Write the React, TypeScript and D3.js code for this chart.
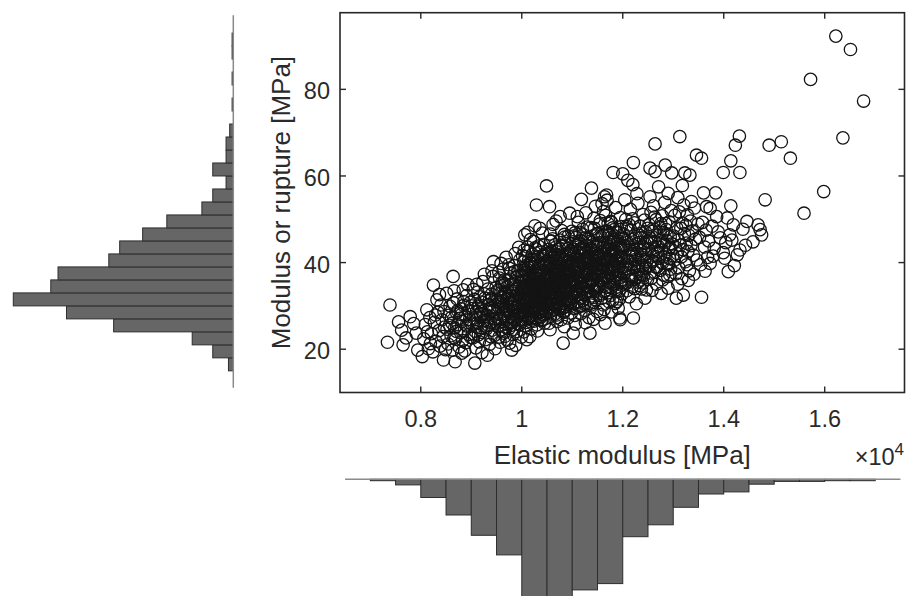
import React from "react";
import * as d3 from "d3";

const W = 906;
const H = 596;

const xTicks = [0.8, 1, 1.2, 1.4, 1.6];
const yTicks = [20, 40, 60, 80];
const xLabel = "Elastic modulus [MPa]";
const yLabel = "Modulus or rupture [MPa]";

// Histogram of elastic modulus (x10^4 MPa), bin lower edges and counts
const elasticBinEdges = [0.65, 0.7, 0.75, 0.8, 0.85, 0.9, 0.95, 1.0, 1.05, 1.1, 1.15, 1.2, 1.25, 1.3, 1.35, 1.4, 1.45, 1.5, 1.55, 1.6, 1.65];
const elasticBinWidth = 0.05;
const elasticCounts = [0, 2, 8, 26, 51, 80, 108, 183, 180, 158, 149, 82, 65, 40, 21, 18, 7, 3, 3, 2, 2];

// Histogram of modulus of rupture (MPa)
const ruptureBinEdges = [15, 18, 21, 24, 27, 30, 33, 36, 39, 42, 45, 48, 51, 54, 57, 60, 63, 66, 69, 72, 75, 78, 81, 84, 87, 90];
const ruptureBinWidth = 3;
const ruptureCounts = [4, 17, 34, 99, 138, 182, 151, 145, 103, 94, 75, 55, 26, 17, 6, 17, 6, 6, 3, 0, 1, 0, 1, 0, 1, 1];

// Scatter: [elastic modulus (x10^4 MPa), modulus of rupture (MPa)]
const points: [number, number][] = [
  [0.734,21.6],[0.739,30.2],
  [0.762,24.4],[0.765,21.0],[0.779,27.5],[0.791,23.7],[0.794,19.8],[0.771,22.6],[0.786,25.9],[0.756,26.3],
  [0.803,18.3],[0.812,29.1],[0.825,34.8],[0.832,31.4],[0.845,17.5],[0.806,22.4],[0.809,25.7],[0.815,20.1],[0.818,27.3],[0.821,23.6],[0.824,19.4],[0.827,26.2],[0.830,21.8],[0.834,28.5],[0.836,24.3],[0.838,20.7],[0.840,30.2],[0.842,26.8],[0.844,22.9],[0.847,25.1],[0.849,19.9],[0.813,24.0],[0.829,27.9],[0.837,32.6],[0.846,28.7],[0.819,21.3],
  [0.851,32.9],[0.864,36.8],[0.868,17.1],[0.881,19.1],[0.884,33.7],[0.852,24.6],[0.854,21.2],[0.856,27.8],[0.858,29.9],[0.860,23.1],[0.862,26.0],[0.863,19.8],[0.865,30.7],[0.867,24.9],[0.869,22.3],[0.871,28.4],[0.872,31.6],[0.874,25.7],[0.876,20.5],[0.877,27.1],[0.879,23.8],[0.880,29.3],[0.882,26.4],[0.883,22.0],[0.885,30.1],[0.886,24.2],[0.888,27.6],[0.889,21.5],[0.891,32.4],[0.892,25.3],[0.894,28.8],[0.895,23.4],[0.897,26.9],[0.898,30.8],[0.899,22.7],[0.857,25.5],[0.873,28.9],[0.887,19.6],[0.866,33.5],[0.893,34.9],
  [0.8605,27.3],[0.8705,24.1],[0.8805,28.0],[0.8905,25.6],[0.9005,30.0],[0.9105,25.3],[0.9205,28.8],[0.9305,26.5],[0.9405,31.8],[0.8655,22.6],[0.8855,31.0],[0.9055,23.5],[0.9255,32.8],[0.9455,25.9],[0.9355,29.4],
  [0.907,16.8],[0.917,32.1],[0.944,40.2],[0.901,25.8],[0.902,29.4],[0.903,22.6],[0.905,27.2],[0.906,31.5],[0.908,24.1],[0.909,20.3],[0.910,28.6],[0.912,26.0],[0.913,33.2],[0.914,23.3],[0.915,29.8],[0.916,21.7],[0.918,27.4],[0.919,25.0],[0.920,30.9],[0.922,23.9],[0.923,35.6],[0.924,28.1],[0.925,26.6],[0.927,31.8],[0.928,22.2],[0.929,29.2],[0.930,24.7],[0.931,27.9],[0.933,33.9],[0.934,25.5],[0.935,30.3],[0.936,21.1],[0.937,28.8],[0.938,26.2],[0.940,32.7],[0.941,24.4],[0.942,29.6],[0.943,36.8],[0.945,27.0],[0.946,23.2],[0.947,31.1],[0.948,26.3],[0.949,34.2],[0.911,35.0],[0.921,19.2],[0.926,37.3],[0.932,18.6],[0.939,22.9],[0.904,33.8],[0.914,30.0],[0.944,29.0],[0.947,20.1],[0.927,25.4],[0.936,31.3],[0.918,28.2],[0.941,38.1],[0.909,27.9],[0.933,27.5],
  [0.980,19.8],[0.951,28.3],[0.952,33.6],[0.953,25.2],[0.954,30.8],[0.955,22.8],[0.956,36.4],[0.957,27.1],[0.958,31.9],[0.959,24.5],[0.960,29.6],[0.961,34.7],[0.962,26.4],[0.963,38.5],[0.964,23.7],[0.965,30.2],[0.966,27.8],[0.967,33.1],[0.968,25.9],[0.969,41.2],[0.970,29.0],[0.971,22.1],[0.972,31.7],[0.973,35.8],[0.974,27.4],[0.975,24.8],[0.976,32.5],[0.977,28.6],[0.978,37.6],[0.979,26.1],[0.981,30.4],[0.982,34.1],[0.983,23.4],[0.984,28.9],[0.985,39.3],[0.986,31.2],[0.987,26.7],[0.988,33.8],[0.989,29.5],[0.990,24.1],[0.991,36.9],[0.992,27.6],[0.993,31.4],[0.994,43.5],[0.995,25.6],[0.996,30.1],[0.997,35.2],[0.998,28.3],[0.999,32.8],[0.953,29.9],[0.957,21.6],[0.961,31.1],[0.966,36.0],[0.969,25.0],[0.973,29.3],[0.976,21.4],[0.979,34.9],[0.983,27.0],[0.986,37.9],[0.989,32.2],[0.993,25.9],[0.996,40.6],[0.999,22.8],[0.955,33.5],[0.963,28.2],[0.971,34.4],[0.977,30.8],[0.985,24.6],[0.992,29.8],[0.997,26.9],[0.959,39.8],[0.967,23.0],[0.975,38.7],[0.982,31.6],[0.988,20.9],[0.995,34.5],[0.964,32.0],[0.987,42.1],
  [0.9525,31.4],[0.9565,26.8],[0.9605,35.3],[0.9645,29.1],[0.9685,32.9],[0.9725,27.0],[0.9765,36.2],[0.9805,30.6],[0.9845,33.4],[0.9885,27.8],[0.9925,38.2],[0.9965,31.9],[0.9545,37.8],[0.9625,24.2],[0.9705,30.0],[0.9785,25.5],[0.9865,35.6],[0.9945,28.1],[0.9585,33.0],[0.9745,39.5],[0.9905,34.0],[0.9665,34.9],[0.9825,26.2],[0.9985,37.0],[0.9745,31.5],
  [1.010,22.2],[1.016,22.9],[1.029,53.3],[1.006,46.4],[1.036,47.9],[1.049,57.7],
  [1.001,30.5],[1.002,35.7],[1.003,27.9],[1.004,40.2],[1.005,32.6],[1.007,25.3],[1.008,37.8],[1.009,29.4],[1.011,34.0],[1.012,42.6],[1.013,27.1],[1.014,31.9],[1.015,36.5],[1.017,28.8],[1.018,33.3],[1.019,24.7],[1.020,39.1],[1.021,30.0],[1.022,35.4],[1.023,44.9],[1.024,26.5],[1.025,32.2],[1.026,38.0],[1.027,29.7],[1.028,34.8],[1.030,25.6],[1.031,41.3],[1.032,31.0],[1.033,36.2],[1.034,28.4],[1.035,33.7],[1.037,27.3],[1.038,39.6],[1.039,30.8],[1.040,35.1],[1.041,46.8],[1.042,29.0],[1.043,33.0],[1.044,37.3],[1.045,26.0],[1.046,31.5],[1.047,42.0],[1.048,28.2],
  [1.001,37.0],[1.003,33.5],[1.005,28.6],[1.007,41.4],[1.009,35.9],[1.011,26.8],[1.013,38.9],[1.015,31.2],[1.017,45.3],[1.019,34.6],[1.021,27.7],[1.023,32.9],[1.025,40.7],[1.027,36.3],[1.029,30.3],[1.031,24.2],[1.033,43.8],[1.035,29.5],[1.037,37.7],[1.039,33.9],[1.041,28.0],[1.043,39.9],[1.045,34.3],[1.047,30.7],[1.049,36.7],
  [1.002,29.2],[1.004,24.0],[1.006,34.2],[1.008,31.1],[1.010,39.4],[1.012,29.8],[1.014,35.8],[1.016,33.1],[1.018,40.0],[1.020,27.0],[1.022,31.6],[1.024,36.9],[1.026,29.3],[1.028,43.1],[1.030,34.7],[1.032,38.4],[1.034,31.9],[1.036,27.5],[1.038,35.0],[1.040,30.2],[1.042,41.7],[1.044,32.4],[1.046,37.8],[1.048,33.6],
  [1.003,38.6],[1.007,32.0],[1.011,30.9],[1.015,27.4],[1.019,37.5],[1.023,28.9],[1.027,32.7],[1.031,35.6],[1.035,39.0],[1.039,26.6],[1.043,30.4],[1.047,34.9],[1.005,42.9],[1.013,34.5],[1.021,41.9],[1.029,37.1],[1.037,31.3],[1.045,39.5],[1.009,26.2],[1.025,35.3],[1.033,29.1],[1.041,33.4],[1.049,30.0],[1.017,39.8],[1.001,26.9],[1.044,44.2],[1.026,48.5],[1.012,47.0],
  [1.0005,33.9],[1.0025,31.2],[1.0045,36.8],[1.0065,29.9],[1.0085,34.4],[1.0105,31.7],[1.0125,37.2],[1.0145,28.3],[1.0165,35.0],[1.0185,30.8],[1.0205,33.7],[1.0225,38.8],[1.0245,30.1],[1.0265,34.1],[1.0285,27.2],[1.0305,32.3],[1.0325,40.3],[1.0345,35.4],[1.0365,30.5],[1.0385,33.0],[1.0405,38.1],[1.0425,35.6],[1.0445,29.6],[1.0465,33.2],[1.0485,39.2],
  [1.0015,41.6],[1.0055,38.3],[1.0095,32.7],[1.0135,40.5],[1.0175,36.0],[1.0215,29.4],[1.0255,39.9],[1.0295,33.4],[1.0335,31.6],[1.0375,42.4],[1.0415,31.8],[1.0455,36.4],[1.0495,34.6],
  [1.0035,28.4],[1.0075,35.5],[1.0115,43.6],[1.0155,33.8],[1.0195,29.0],[1.0235,35.9],[1.0275,31.0],[1.0315,37.4],[1.0355,34.3],[1.0395,28.7],[1.0435,36.1],[1.0475,31.1],[1.0125,32.5],[1.0265,43.4],[1.0405,26.9],[1.0085,27.7],[1.0325,28.6],[1.0445,40.8],
  [1.055,52.9],[1.082,21.4],[1.095,51.4],[1.076,50.6],
  [1.051,33.2],[1.052,38.7],[1.053,29.5],[1.054,42.3],[1.056,35.0],[1.057,27.6],[1.058,40.1],[1.059,31.8],[1.060,36.6],[1.061,45.5],[1.062,30.3],[1.063,34.1],[1.064,39.2],[1.065,28.1],[1.066,37.4],[1.067,32.5],[1.068,43.6],[1.069,35.8],[1.070,26.4],[1.071,31.0],[1.072,40.8],[1.073,34.4],[1.074,38.0],[1.075,29.7],[1.077,36.1],[1.078,32.9],[1.079,47.4],[1.080,39.5],[1.081,30.6],[1.083,35.3],[1.084,41.7],[1.085,28.8],[1.086,37.9],[1.087,33.6],[1.088,44.4],[1.089,31.4],[1.090,36.8],[1.091,27.2],[1.092,40.4],[1.093,34.7],[1.094,38.9],[1.096,30.1],[1.097,42.8],[1.098,35.5],[1.099,32.1],
  [1.051,40.5],[1.053,36.2],[1.055,31.3],[1.057,44.9],[1.059,38.3],[1.061,29.1],[1.063,41.1],[1.065,33.8],[1.067,37.0],[1.069,27.9],[1.071,43.0],[1.073,39.9],[1.075,34.9],[1.077,30.0],[1.079,36.4],[1.081,41.5],[1.083,28.5],[1.085,45.9],[1.087,38.6],[1.089,34.0],[1.091,37.6],[1.093,30.7],[1.095,42.2],[1.097,36.0],[1.099,39.1],
  [1.052,31.6],[1.054,26.0],[1.056,39.7],[1.058,34.6],[1.060,30.5],[1.062,48.8],[1.064,36.3],[1.066,32.0],[1.068,38.2],[1.070,35.1],[1.072,29.4],[1.074,43.3],[1.076,33.0],[1.078,41.0],[1.080,37.2],[1.082,31.9],[1.084,35.7],[1.086,29.0],[1.088,39.3],[1.090,33.4],[1.092,46.1],[1.094,31.5],[1.096,37.7],[1.098,28.3],
  [1.054,34.8],[1.058,45.0],[1.062,37.8],[1.066,41.9],[1.070,31.7],[1.074,36.9],[1.078,26.8],[1.082,44.0],[1.086,34.2],[1.090,40.0],[1.094,35.6],[1.098,42.6],[1.056,24.5],[1.064,32.8],[1.072,37.3],[1.080,33.1],[1.088,29.8],[1.096,34.5],[1.060,41.6],[1.076,39.6],[1.092,36.5],[1.068,49.6],[1.084,25.2],[1.099,47.2],
  [1.0505,36.3],[1.0525,33.5],[1.0545,39.0],[1.0565,30.7],[1.0585,37.0],[1.0605,34.0],[1.0625,41.3],[1.0645,29.3],[1.0665,35.7],[1.0685,32.2],[1.0705,38.5],[1.0725,34.9],[1.0745,31.4],[1.0765,36.7],[1.0785,43.8],[1.0805,34.6],[1.0825,38.0],[1.0845,31.2],[1.0865,40.7],[1.0885,36.0],[1.0905,30.3],[1.0925,38.1],[1.0945,33.9],[1.0965,41.0],[1.0985,35.2],
  [1.0515,43.0],[1.0555,28.6],[1.0595,42.5],[1.0635,35.6],[1.0675,40.4],[1.0715,33.7],[1.0755,45.2],[1.0795,31.8],[1.0835,40.1],[1.0875,33.2],[1.0915,43.2],[1.0955,37.2],[1.0995,33.0],
  [1.0535,29.8],[1.0575,33.3],[1.0615,38.9],[1.0655,44.1],[1.0695,30.4],[1.0735,41.8],[1.0775,35.1],[1.0815,29.5],[1.0855,37.4],[1.0895,42.0],[1.0935,35.8],[1.0975,30.9],[1.0565,46.6],[1.0705,27.3],[1.0845,46.5],[1.0985,39.9],[1.0625,32.9],
  [1.138,57.2],[1.135,23.7],[1.102,23.7],
  [1.101,36.0],[1.102,41.8],[1.103,31.9],[1.104,46.2],[1.105,38.5],[1.106,33.0],[1.107,43.9],[1.108,35.6],[1.109,29.6],[1.110,40.6],[1.111,37.1],[1.112,49.3],[1.113,32.6],[1.114,44.5],[1.115,39.0],[1.116,34.3],[1.117,28.2],[1.118,42.1],[1.119,36.9],[1.120,47.7],[1.121,31.2],[1.122,39.8],[1.123,35.2],[1.124,43.0],[1.125,30.4],[1.126,37.6],[1.127,51.5],[1.128,34.8],[1.129,40.9],[1.130,33.5],[1.131,45.6],[1.132,38.1],[1.133,27.3],[1.134,42.4],[1.136,36.3],[1.137,48.1],[1.139,32.3],[1.140,39.4],[1.141,44.1],[1.142,35.9],[1.143,30.8],[1.144,41.3],[1.145,37.4],[1.146,53.0],[1.147,34.0],[1.148,46.6],[1.149,39.6],
  [1.101,44.8],[1.103,38.9],[1.105,27.8],[1.107,34.9],[1.109,42.6],[1.111,31.0],[1.113,39.3],[1.115,47.0],[1.117,36.6],[1.119,32.0],[1.121,43.4],[1.123,29.0],[1.125,41.0],[1.127,37.9],[1.129,33.2],[1.131,39.9],[1.133,35.4],[1.135,44.9],[1.137,30.2],[1.139,42.8],[1.141,36.0],[1.143,50.2],[1.145,33.3],[1.147,40.3],[1.149,28.7],
  [1.104,35.3],[1.108,45.8],[1.112,38.6],[1.116,41.6],[1.120,33.9],[1.124,36.7],[1.128,44.0],[1.132,31.6],[1.136,40.0],[1.140,35.0],[1.144,47.9],[1.148,37.0],[1.106,25.8],[1.114,29.9],[1.122,46.4],[1.130,37.3],[1.138,41.9],[1.146,31.4],[1.110,50.6],[1.118,54.6],[1.126,26.1],[1.134,38.4],[1.142,26.9],[1.150,43.7],
  [1.1005,39.2],[1.1025,35.0],[1.1045,42.2],[1.1065,37.8],[1.1085,33.4],[1.1105,44.0],[1.1125,36.5],[1.1145,40.1],[1.1165,31.8],[1.1185,38.3],[1.1205,42.9],[1.1225,34.1],[1.1245,39.7],[1.1265,45.7],[1.1285,37.0],[1.1305,41.4],[1.1325,34.6],[1.1345,39.0],[1.1365,43.3],[1.1385,36.1],[1.1405,31.9],[1.1425,40.6],[1.1445,37.5],[1.1465,43.9],[1.1485,34.7],
  [1.1015,32.6],[1.1055,46.9],[1.1095,38.0],[1.1135,33.6],[1.1175,45.0],[1.1215,37.9],[1.1255,32.7],[1.1295,48.2],[1.1335,41.0],[1.1375,35.5],[1.1415,46.2],[1.1455,39.1],[1.1495,42.1],
  [1.1035,29.4],[1.1075,40.9],[1.1115,35.2],[1.1155,43.1],[1.1195,30.0],[1.1235,41.9],[1.1275,33.0],[1.1315,37.8],[1.1355,30.6],[1.1395,44.7],[1.1435,33.8],[1.1475,38.4],
  [1.168,55.6],[1.169,54.4],[1.194,27.2],[1.181,60.8],[1.165,26.0],[1.195,26.8],
  [1.151,38.9],[1.152,44.3],[1.153,34.6],[1.154,48.9],[1.155,41.2],[1.156,36.0],[1.157,46.0],[1.158,31.7],[1.159,39.7],[1.160,43.5],[1.161,35.1],[1.162,51.8],[1.163,38.0],[1.164,42.7],[1.166,33.6],[1.167,47.3],[1.170,40.1],[1.171,36.8],[1.172,44.8],[1.173,30.9],[1.174,41.7],[1.175,38.4],[1.176,49.5],[1.177,34.2],[1.178,43.1],[1.179,37.5],[1.180,31.3],[1.182,45.4],[1.183,39.2],[1.184,35.7],[1.185,42.0],[1.186,52.7],[1.187,33.8],[1.188,40.5],[1.189,46.9],[1.190,37.2],[1.191,29.5],[1.192,43.8],[1.193,39.0],[1.196,35.4],[1.197,48.3],[1.198,41.4],[1.199,32.8],
  [1.151,46.7],[1.153,41.8],[1.155,32.4],[1.157,37.9],[1.159,53.6],[1.161,40.8],[1.163,29.2],[1.165,44.0],[1.167,36.4],[1.169,41.1],[1.171,49.0],[1.173,38.8],[1.175,34.5],[1.177,45.9],[1.179,40.2],[1.181,35.0],[1.183,47.6],[1.185,30.6],[1.187,42.5],[1.189,38.1],[1.191,44.4],[1.193,33.4],[1.195,50.4],[1.197,37.7],[1.199,42.9],
  [1.154,36.6],[1.158,42.4],[1.162,39.4],[1.166,50.9],[1.170,33.0],[1.174,46.5],[1.178,28.6],[1.182,41.6],[1.186,37.0],[1.190,45.0],[1.194,39.8],[1.198,34.8],[1.156,28.0],[1.164,55.2],[1.172,42.2],[1.180,48.0],[1.188,31.0],[1.196,43.2],
  [1.1505,41.5],[1.1525,37.3],[1.1545,44.6],[1.1565,39.3],[1.1585,35.8],[1.1605,46.3],[1.1625,41.0],[1.1645,36.8],[1.1665,43.3],[1.1685,38.6],[1.1705,47.2],[1.1725,35.5],[1.1745,40.8],[1.1765,44.1],[1.1785,37.6],[1.1805,42.6],[1.1825,38.2],[1.1845,46.1],[1.1865,40.3],[1.1885,35.2],[1.1905,41.2],[1.1925,47.0],[1.1945,36.6],[1.1965,40.9],[1.1985,45.6],
  [1.1515,34.4],[1.1555,49.7],[1.1595,38.1],[1.1635,33.3],[1.1675,40.5],[1.1715,43.0],[1.1755,32.4],[1.1795,39.5],[1.1835,44.9],[1.1875,33.4],[1.1915,38.7],[1.1955,43.7],[1.1995,39.0],
  [1.1535,40.0],[1.1615,30.2],[1.1695,34.3],[1.1775,49.3],[1.1855,36.3],[1.1935,31.6],[1.1975,35.9],
  [1.200,60.5],[1.210,59.0],[1.220,58.0],[1.221,63.1],[1.204,54.5],[1.244,31.8],[1.247,33.7],[1.221,27.2],
  [1.201,41.0],[1.202,46.6],[1.203,37.6],[1.205,43.9],[1.206,50.0],[1.207,35.2],[1.208,40.4],[1.209,47.8],[1.211,38.3],[1.212,44.1],[1.213,32.1],[1.214,41.5],[1.215,52.3],[1.216,37.0],[1.217,45.3],[1.218,39.6],[1.219,34.4],[1.222,43.0],[1.223,49.2],[1.224,36.2],[1.225,40.7],[1.226,46.0],[1.227,30.5],[1.228,42.3],[1.229,38.0],[1.230,53.7],[1.231,35.5],[1.232,44.6],[1.233,40.0],[1.234,48.4],[1.235,37.3],[1.236,42.7],[1.237,33.9],[1.238,46.8],[1.239,39.2],[1.240,51.1],[1.241,36.9],[1.242,43.5],[1.243,40.6],[1.245,47.1],[1.246,38.7],[1.248,44.9],[1.249,36.1],
  [1.203,45.5],[1.208,33.5],[1.213,48.7],[1.218,42.0],[1.223,38.9],[1.228,55.9],[1.233,34.7],[1.238,41.2],[1.243,49.8],[1.206,39.5],[1.216,47.5],[1.226,36.6],[1.236,45.7],[1.246,41.9],
  [1.2015,43.8],[1.2055,38.6],[1.2095,44.7],[1.2135,40.2],[1.2175,36.0],[1.2215,45.5],[1.2255,41.4],[1.2295,38.4],[1.2335,46.3],[1.2375,37.1],[1.2415,43.1],[1.2455,39.0],[1.2495,47.9],
  [1.2035,35.0],[1.2075,48.4],[1.2115,36.5],[1.2155,42.9],[1.2195,50.1],[1.2235,34.0],[1.2275,44.2],[1.2315,39.1],[1.2355,42.0],[1.2395,35.3],[1.2435,44.4],[1.2475,40.3],
  [1.254,61.8],[1.284,62.5],[1.264,61.0],[1.297,60.7],[1.264,67.4],[1.254,55.2],[1.290,56.0],[1.290,34.1],
  [1.251,43.2],[1.252,48.8],[1.253,39.4],[1.255,45.6],[1.256,51.6],[1.257,36.4],[1.258,42.5],[1.259,47.2],[1.260,40.3],[1.261,53.1],[1.262,37.8],[1.263,44.7],[1.265,41.4],[1.266,49.9],[1.267,35.0],[1.268,46.3],[1.269,39.1],[1.270,43.8],[1.271,57.5],[1.272,41.0],[1.273,48.2],[1.274,38.2],[1.275,45.1],[1.276,32.9],[1.277,42.9],[1.278,50.8],[1.279,40.0],[1.280,46.9],[1.281,37.1],[1.282,44.0],[1.283,53.9],[1.285,41.8],[1.286,47.6],[1.287,39.7],[1.288,45.0],[1.289,36.8],[1.291,43.1],[1.292,49.4],[1.293,40.9],[1.294,46.0],[1.295,38.5],[1.296,52.0],[1.298,44.3],[1.299,41.6],
  [1.257,44.6],[1.263,50.5],[1.268,42.2],[1.274,47.0],[1.279,36.0],[1.285,49.0],[1.293,37.2],[1.258,33.6],
  [1.2515,46.0],[1.2575,40.6],[1.2635,47.6],[1.2695,42.6],[1.2755,49.0],[1.2815,41.3],[1.2875,46.4],[1.2935,43.5],[1.2545,37.6],[1.2665,38.9],[1.2785,44.8],[1.2905,39.6],
  [1.313,69.1],[1.323,60.7],[1.333,60.2],[1.336,54.1],[1.306,31.8],[1.320,32.5],[1.346,64.8],[1.327,39.5],
  [1.301,46.1],[1.302,40.5],[1.303,50.9],[1.304,43.6],[1.305,37.4],[1.307,48.0],[1.308,42.1],[1.309,55.0],[1.310,45.2],[1.311,38.8],[1.312,51.7],[1.314,44.0],[1.315,47.9],[1.316,41.3],[1.317,36.3],[1.318,49.1],[1.319,43.0],[1.321,53.3],[1.322,46.7],[1.324,40.2],[1.325,48.6],[1.326,44.5],[1.328,51.0],[1.329,42.6],[1.331,46.3],[1.332,38.1],[1.334,49.6],[1.335,43.9],[1.338,47.3],[1.340,41.7],[1.342,52.6],[1.344,45.4],[1.347,40.6],[1.349,48.9],
  [1.309,35.0],[1.318,57.8],[1.330,35.9],[1.341,37.3],
  [1.356,64.1],[1.360,56.1],[1.384,56.1],[1.366,52.9],[1.354,39.5],[1.356,32.0],[1.373,39.8],[1.373,52.5],[1.389,47.1],[1.399,60.8],[1.399,42.3],
  [1.352,45.8],[1.358,49.3],[1.362,43.6],[1.365,47.5],[1.368,41.2],[1.370,45.0],[1.377,48.4],[1.381,43.3],[1.386,50.6],[1.393,45.7],[1.363,38.0],[1.379,41.5],
  [1.431,69.2],[1.423,67.1],[1.414,63.5],[1.432,60.8],[1.414,53.1],[1.419,48.7],[1.412,46.4],[1.432,42.9],[1.427,41.8],[1.409,37.9],[1.404,44.6],[1.407,50.3],[1.416,45.2],[1.438,47.7],[1.443,44.0],[1.402,41.0],[1.421,39.3],[1.446,49.5],
  [1.490,67.1],[1.482,54.5],[1.468,48.7],[1.472,47.6],[1.475,46.4],[1.458,44.8],
  [1.514,67.9],[1.532,64.1],
  [1.572,82.3],[1.559,51.4],[1.598,56.4],
  [1.622,92.3],[1.636,68.8],
  [1.651,89.2],[1.677,77.3],
];

const FONT = "'Liberation Sans', Arial, Helvetica, sans-serif";
const TEXT = "#2a2a2a";

export default function App() {
  // scatter axes
  const x = d3.scaleLinear().domain([0.64, 1.758]).range([340, 904.5]);
  const y = d3.scaleLinear().domain([10, 97.7]).range([392.5, 12.7]);
  const [x0, x1] = x.range();
  const [yb, yt] = y.range();

  // marginal histograms
  const bottomBase = 479.3;
  const bottomLen = d3.scaleLinear().domain([0, 170]).range([0, 119]);
  const leftBase = 233.3;
  const leftLen = d3.scaleLinear().domain([0, 182]).range([0, 220]);

  const tickLen = 6;

  return (
    <svg
      width={W}
      height={H}
      viewBox={`0 0 ${W} ${H}`}
      style={{ position: "absolute", left: 0, top: 0, background: "#fff" }}
      fontFamily={FONT}
    >
      <rect x={0} y={0} width={W} height={H} fill="#fff" />

      {/* scatter points */}
      <g fill="none" stroke="#141414" strokeWidth={1.3}>
        {points.map(([px, py], i) => (
          <circle key={i} cx={x(px)} cy={y(py)} r={6.2} />
        ))}
      </g>

      {/* axes box */}
      <rect x={x0} y={yt} width={x1 - x0} height={yb - yt} fill="none" stroke="#262626" strokeWidth={1.6} />
      <g stroke="#262626" strokeWidth={1.4}>
        {xTicks.map((t) => (
          <g key={"xt" + t}>
            <line x1={x(t)} x2={x(t)} y1={yb} y2={yb - tickLen} />
            <line x1={x(t)} x2={x(t)} y1={yt} y2={yt + tickLen} />
          </g>
        ))}
        {yTicks.map((t) => (
          <g key={"yt" + t}>
            <line x1={x0} x2={x0 + tickLen} y1={y(t)} y2={y(t)} />
            <line x1={x1} x2={x1 - tickLen} y1={y(t)} y2={y(t)} />
          </g>
        ))}
      </g>
      <g fill={TEXT} fontSize={23.5}>
        {xTicks.map((t) => (
          <text key={"xl" + t} x={x(t)} y={427} textAnchor="middle">
            {String(t)}
          </text>
        ))}
        {yTicks.map((t) => (
          <text key={"yl" + t} x={330} y={y(t) + 10} textAnchor="end">
            {String(t)}
          </text>
        ))}
      </g>
      <text x={(x0 + x1) / 2} y={464} textAnchor="middle" fontSize={26} fill={TEXT}>
        {xLabel}
      </text>
      <text
        transform={`translate(290,${(yt + yb) / 2}) rotate(-90)`}
        textAnchor="middle"
        fontSize={26}
        fill={TEXT}
      >
        {yLabel}
      </text>
      <text x={904} y={465} textAnchor="end" fontSize={23.5} fill={TEXT}>
        ×10
        <tspan dy={-10} fontSize={17}>4</tspan>
      </text>

      {/* bottom histogram */}
      <g fill="#666666" stroke="#2e2e2e" strokeWidth={1}>
        {elasticCounts.map((c, i) =>
          c > 0 ? (
            <rect
              key={"bh" + i}
              x={x(elasticBinEdges[i])}
              y={bottomBase}
              width={x(elasticBinEdges[i] + elasticBinWidth) - x(elasticBinEdges[i])}
              height={bottomLen(c)}
            />
          ) : null
        )}
      </g>
      <line x1={x(0.65)} x2={x(1.75)} y1={bottomBase} y2={bottomBase} stroke="#8a8a8a" strokeWidth={1.5} />

      {/* left histogram */}
      <g fill="#666666" stroke="#2e2e2e" strokeWidth={1}>
        {ruptureCounts.map((c, i) =>
          c > 0 ? (
            <rect
              key={"lh" + i}
              x={leftBase - leftLen(c)}
              y={y(ruptureBinEdges[i] + ruptureBinWidth)}
              width={leftLen(c)}
              height={y(ruptureBinEdges[i]) - y(ruptureBinEdges[i] + ruptureBinWidth)}
            />
          ) : null
        )}
      </g>
      <line x1={leftBase} x2={leftBase} y1={y(97.1)} y2={y(11.1)} stroke="#8a8a8a" strokeWidth={1.5} />
    </svg>
  );
}
